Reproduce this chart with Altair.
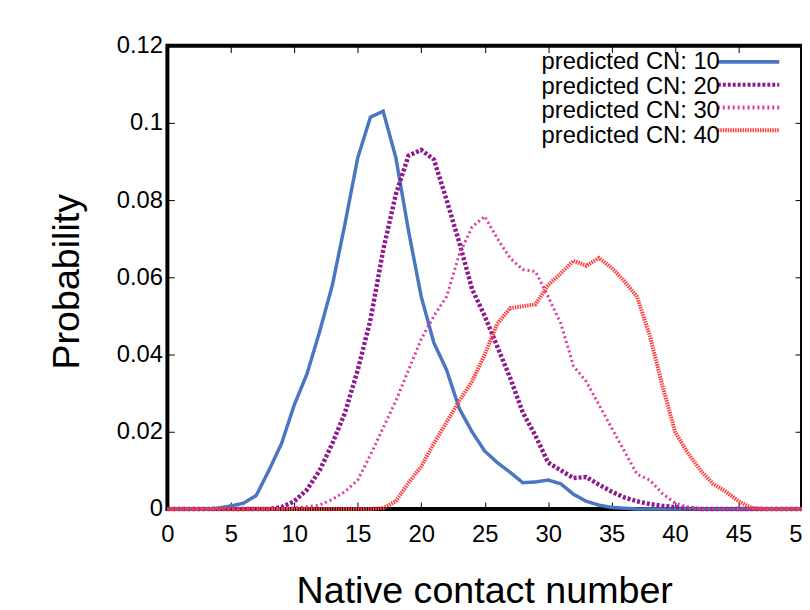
import altair as alt
import pandas as pd

# ---------------- data ----------------
x_vals = list(range(51))
series_names = ["predicted CN: 10", "predicted CN: 20", "predicted CN: 30", "predicted CN: 40"]

cn10 = [0, 0, 0, 0, 0.0002, 0.0008, 0.0015, 0.0035, 0.010, 0.017,
        0.027, 0.035, 0.046, 0.058, 0.074, 0.091, 0.1015, 0.103, 0.091, 0.072,
        0.055, 0.043, 0.036, 0.026, 0.020, 0.015, 0.012, 0.0095, 0.0068, 0.007,
        0.0075, 0.0065, 0.0038, 0.002, 0.001, 0.0004, 0.0002, 0, 0, 0,
        0, 0, 0, 0, 0, 0, 0, 0, 0, 0, 0]
cn20 = [0, 0, 0, 0, 0, 0, 0, 0, 0, 0.0005,
        0.002, 0.005, 0.010, 0.017, 0.025, 0.036, 0.049, 0.067, 0.0815, 0.0915,
        0.093, 0.0905, 0.080, 0.069, 0.057, 0.050, 0.042, 0.034, 0.025, 0.019,
        0.012, 0.010, 0.008, 0.0083, 0.0063, 0.0045, 0.003, 0.002, 0.0013, 0.0008,
        0.0005, 0.0002, 0, 0, 0, 0, 0, 0, 0, 0, 0]
cn30 = [0, 0, 0, 0, 0, 0, 0, 0, 0, 0,
        0.0003, 0.0006, 0.001, 0.0025, 0.0045, 0.0075, 0.014, 0.021, 0.028, 0.036,
        0.044, 0.050, 0.055, 0.066, 0.073, 0.0758, 0.070, 0.065, 0.062, 0.0615,
        0.055, 0.048, 0.037, 0.033, 0.027, 0.021, 0.015, 0.009, 0.0075, 0.004,
        0.0015, 0.0005, 0, 0, 0, 0, 0, 0, 0, 0, 0]
cn40 = [0, 0, 0, 0, 0, 0, 0, 0, 0, 0,
        0, 0, 0, 0, 0, 0, 0, 0.0002, 0.002, 0.0068,
        0.011, 0.017, 0.0225, 0.028, 0.033, 0.040, 0.048, 0.052, 0.0525, 0.053,
        0.058, 0.061, 0.0643, 0.063, 0.065, 0.0625, 0.059, 0.055, 0.045, 0.032,
        0.020, 0.0145, 0.010, 0.0065, 0.0045, 0.002, 0.0003, 0, 0, 0, 0]

x_ticks = [0, 5, 10, 15, 20, 25, 30, 35, 40, 45, 50]
y_ticks = [0, 0.02, 0.04, 0.06, 0.08, 0.1, 0.12]

# ---------------- styles ----------------
colors = ["#4a76c2", "#8e1b8e", "#e0359e", "#ff3c3c"]
dashes = [[1, 0], [3, 2], [2, 3], [1.5, 1]]
widths = [3.5, 4.5, 3, 4]
FONT = "Liberation Sans"

rows = []
for name, vals in zip(series_names, [cn10, cn20, cn30, cn40]):
    for xv, yv in zip(x_vals, vals):
        rows.append({"x": xv, "p": yv, "series": name, "label": name})
df = pd.DataFrame(rows)

xscale = alt.Scale(domain=[0, 50], nice=False, zero=False)
yscale = alt.Scale(domain=[0, 0.12], nice=False)

# legend 1: the line samples only (labels hidden)
sym_legend = alt.Legend(
    title=None, orient="none", legendX=494, legendY=5,
    symbolType="stroke", symbolSize=3844, symbolStrokeWidth=4, symbolOffset=60,
    labelOpacity=0, labelFontSize=1, labelLimit=20,
    clipHeight=22.8, rowPadding=0, padding=0,
)
# legend 2: the texts only, right-aligned just left of the samples (gnuplot style)
txt_legend = alt.Legend(
    title=None, orient="none", legendX=534, legendY=5,
    symbolType="stroke", symbolSize=1, symbolOpacity=0, symbolStrokeWidth=0,
    labelAlign="right", labelOffset=0, labelFontSize=24, labelFont=FONT,
    labelColor="black", labelLimit=400, clipHeight=22.8, rowPadding=0, padding=0,
)

color = alt.Color("series:N", scale=alt.Scale(domain=series_names, range=colors), legend=sym_legend)
dash = alt.StrokeDash("series:N", scale=alt.Scale(domain=series_names, range=dashes), legend=sym_legend)
# data-driven domain (different from the explicit one above) keeps this legend separate
opac = alt.Opacity("label:N", scale=alt.Scale(range=[1, 1]), legend=txt_legend)

common_axis = dict(tickSize=7, offset=-7, domain=False, grid=False, tickColor="black",
                   tickWidth=1, labelFont=FONT, labelColor="black", titleFont=FONT,
                   titleColor="black", titleFontWeight="normal")

x_axis = alt.Axis(orient="bottom", values=x_ticks, labelFontSize=24, labelPadding=14,
                  labelFlush=False, labelOverlap=False, title="Native contact number",
                  titleFontSize=38, titleX=320, titleY=101, titleBaseline="alphabetic",
                  titleAlign="center", **common_axis)
y_axis = alt.Axis(orient="left", values=y_ticks, labelFontSize=24, labelPadding=5,
                  labelFlush=False, labelOverlap=False,
                  labelExpr="format(datum.value, '~g')", title="Probability",
                  titleFontSize=38, titleX=-97, titleY=238, titleAngle=270,
                  titleBaseline="alphabetic", titleAlign="center", **common_axis)
x_axis_top = alt.Axis(orient="top", values=x_ticks, labels=False, title=None, **common_axis)
y_axis_right = alt.Axis(orient="right", values=y_ticks, labels=False, title=None, **common_axis)

base = alt.Chart(df)

# mirror ticks (top / right)
mirror = base.mark_line(opacity=0).encode(
    x=alt.X("x:Q", scale=xscale, axis=x_axis_top),
    y=alt.Y("p:Q", scale=yscale, axis=y_axis_right),
    detail="series:N",
)

layers = []
for i, (name, w) in enumerate(zip(series_names, widths)):
    layers.append(
        base.transform_filter(alt.datum.series == name).mark_line(strokeWidth=w).encode(
            x=alt.X("x:Q", scale=xscale, axis=x_axis if i == 0 else None),
            y=alt.Y("p:Q", scale=yscale, axis=y_axis if i == 0 else None),
            color=color,
            strokeDash=dash,
            opacity=opac,
        )
    )

chart = alt.layer(*layers, mirror).resolve_axis(x="independent", y="independent").properties(
    width=641, height=468,
    autosize=alt.AutoSizeParams(type="none"),
    padding={"left": 161, "top": 35, "right": 0, "bottom": 98},
).configure(font=FONT).configure_view(stroke="black", strokeWidth=4)

chart.save("out.html", embed_options={"renderer": "svg", "actions": False})
